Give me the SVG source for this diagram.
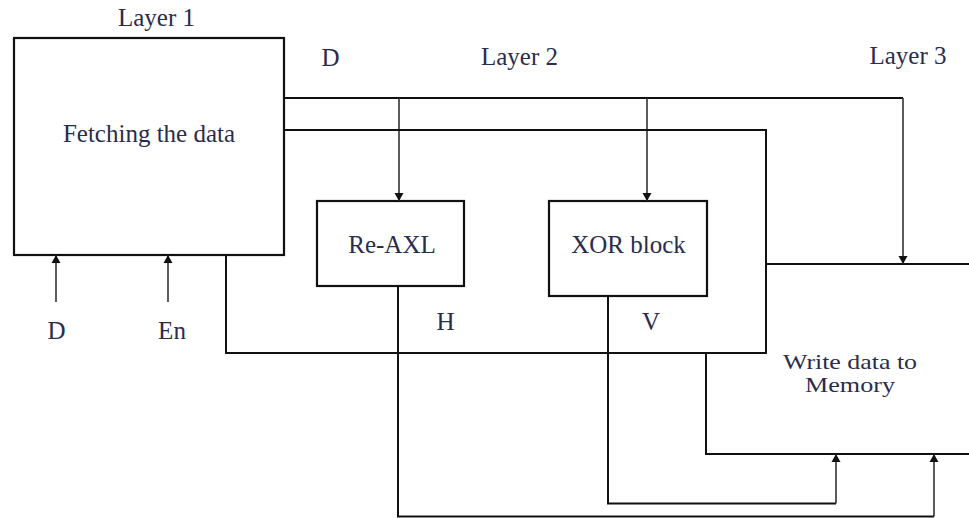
<svg xmlns="http://www.w3.org/2000/svg" width="969" height="518" viewBox="0 0 969 518">
<style>
.box{fill:none;stroke:#111;stroke-width:2.2}
.wire{fill:none;stroke:#111;stroke-width:2}
.arr{fill:none;stroke:#333;stroke-width:1.6}
.t{font-family:"Liberation Serif","Times New Roman",serif;font-size:25px;fill:#2a2c4c;text-anchor:middle}
.s{font-size:22px}
</style>
<defs>
<marker id="ah" markerUnits="userSpaceOnUse" markerWidth="12" markerHeight="12" viewBox="0 0 12 12" refX="11" refY="6" orient="auto">
<path d="M3,1.5 L11,6 L3,10.5 Z" fill="#111"/>
</marker>
</defs>
<rect width="969" height="518" fill="#fff"/>
<g id="labels">
<text class="t" x="156.5" y="26">Layer 1</text>
<text class="t" x="330.5" y="66">D</text>
<text class="t" x="519.5" y="65">Layer 2</text>
<text class="t" x="908" y="64">Layer 3</text>
<text class="t" x="445.5" y="330">H</text>
<text class="t" x="651" y="330">V</text>
<text class="t" x="56.5" y="339">D</text>
<text class="t" x="172" y="339">En</text>
</g>
<g id="fetch">
<rect class="box" x="14" y="38" width="270" height="217"/>
<text class="t" x="149" y="142">Fetching the data</text>
</g>
<g id="reaxl">
<rect class="box" x="317" y="201" width="147" height="85"/>
<text class="t" x="392" y="253">Re-AXL</text>
</g>
<g id="xor">
<rect class="box" x="549" y="201" width="158" height="95"/>
<text class="t" x="628.5" y="253">XOR block</text>
</g>
<g id="write">
<path class="wire" d="M970,264 H766 V353 H706 V454 H970"/>
<text class="t s" x="850" y="369" textLength="134" lengthAdjust="spacingAndGlyphs">Write data to</text>
<text class="t s" x="850" y="392" textLength="90" lengthAdjust="spacingAndGlyphs">Memory</text>
</g>
<g id="connectors">
<path class="wire" d="M284,98 H903"/>
<path class="arr" d="M903,98 V264" marker-end="url(#ah)"/>
<path class="arr" d="M399,98 V201" marker-end="url(#ah)"/>
<path class="arr" d="M647,98 V201" marker-end="url(#ah)"/>
<path class="wire" d="M284,130 H766 V264"/>
<path class="wire" d="M226,255 V353 H706"/>
<path class="arr" d="M56,302 V255" marker-end="url(#ah)"/>
<path class="arr" d="M168,302 V255" marker-end="url(#ah)"/>
<path class="wire" d="M398,286 V516.5 H934"/>
<path class="arr" d="M934,516.5 V454" marker-end="url(#ah)"/>
<path class="wire" d="M608,296 V503.5 H836"/>
<path class="arr" d="M836,503.5 V454" marker-end="url(#ah)"/>
</g>
</svg>
